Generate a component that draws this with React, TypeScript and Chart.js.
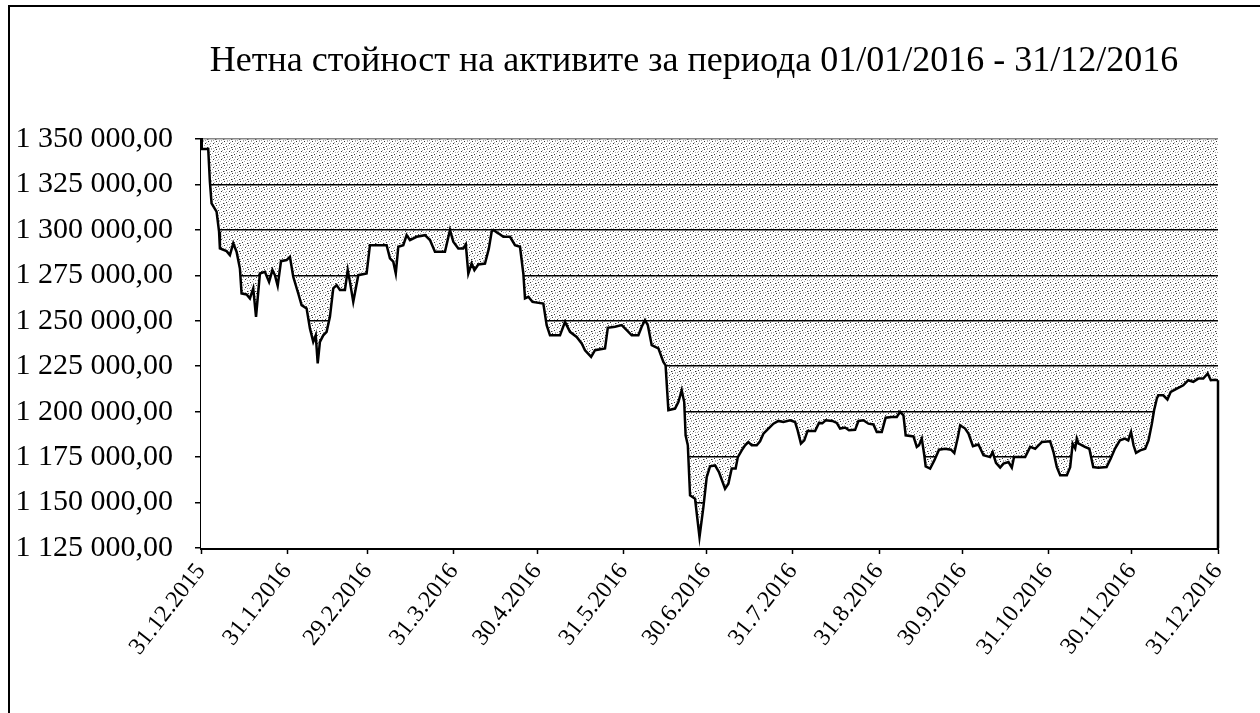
import React, { useEffect, useRef } from "react";
import { Chart, registerables } from "chart.js";

Chart.register(...registerables);

const TITLE = "Нетна стойност на активите за периода 01/01/2016 - 31/12/2016";

// days since 31.12.2015
const dayOffsets = [
  0, 2.6, 3.2, 3.8, 5.6, 6.5, 6.8, 9.2, 10.4, 11.6, 12.8, 14.0, 14.6, 16.4, 17.6, 18.8, 19.8, 21.2, 23.0, 24.5,
  25.7, 26.6, 27.6, 28.8, 30.8, 32.0, 33.2, 35.0, 36.2, 38.0, 39.2, 40.4, 41.3, 42.0, 42.8, 44.0, 45.2, 46.4, 47.6, 48.8,
  50.0, 51.8, 52.8, 53.6, 54.8, 56.6, 59.6, 60.8, 66.8, 68.0, 69.2, 70.1, 71.0, 72.8, 74.0, 75.2, 77.6, 80.6, 82.4, 84.2,
  87.8, 89.6, 90.8, 92.6, 94.4, 95.3, 96.2, 97.4, 98.4, 99.8, 102.2, 103.6, 104.6, 105.2, 107.0, 108.8, 111.2, 113.0, 114.8, 116.0,
  116.6, 117.8, 119.3, 123.2, 124.4, 125.6, 129.2, 131.0, 132.8, 135.2, 137.0, 138.2, 140.4, 141.8, 145.4, 146.4, 149.0, 151.4, 153.2, 155.0,
  157.4, 158.6, 159.8, 160.8, 162.2, 164.6, 166.4, 167.2, 168.2, 170.6, 171.8, 173.0, 173.9, 174.4, 175.2, 176.0, 177.8, 179.4, 180.8, 182.0,
  183.2, 185.0, 186.4, 188.6, 189.8, 191.0, 192.4, 193.2, 194.6, 195.8, 197.0, 198.2, 200.0, 201.2, 202.4, 204.2, 206.0, 207.8, 209.6, 212.0,
  213.8, 214.7, 215.9, 217.1, 218.3, 221.0, 222.4, 223.6, 224.8, 227.2, 228.8, 230.0, 231.8, 233.2, 235.4, 236.6, 238.4, 240.2, 242.0, 243.2,
  245.0, 246.4, 248.6, 250.4, 251.6, 252.8, 253.6, 256.4, 257.6, 258.4, 259.4, 260.3, 260.8, 262.4, 263.9, 265.6, 267.8, 269.9, 271.1, 272.4,
  273.2, 275.0, 276.2, 277.8, 279.8, 281.6, 284.0, 284.9, 286.1, 287.6, 288.8, 290.6, 291.8, 292.6, 296.6, 298.4, 300.2, 301.4, 302.6, 305.6,
  306.8, 308.0, 309.2, 311.6, 312.8, 313.7, 314.6, 315.2, 315.8, 316.6, 318.1, 319.7, 321.1, 322.9, 325.9, 327.4, 328.9, 330.7, 332.5, 333.7,
  334.7, 335.6, 336.5, 338.0, 339.8, 341.0, 342.2, 343.0, 344.0, 344.5, 346.3, 347.8, 349.0, 351.2, 353.5, 355.3, 357.1, 358.9, 360.7, 362.3,
  363.4, 365.0, 366.0,
];

const navValues = [
  1344500, 1344500, 1326500, 1314600, 1310000, 1299000, 1289800, 1288300, 1286100, 1292600, 1288000, 1278800, 1265000, 1264500, 1262300, 1267800, 1252200, 1276000, 1276900, 1271400,
  1277900, 1275100, 1269200, 1282800, 1283400, 1285200, 1274200, 1265000, 1258600, 1256800, 1245800, 1238400, 1242000, 1226500, 1238400, 1242000, 1243900, 1252200, 1267800, 1269600,
  1266900, 1266900, 1277900, 1271400, 1260400, 1275100, 1276000, 1291600, 1291600, 1284300, 1282500, 1276000, 1290700, 1291600, 1297100, 1294400, 1296200, 1297100, 1294400, 1288000,
  1288000, 1299900, 1293500, 1289800, 1289800, 1292000, 1276000, 1281500, 1277900, 1281000, 1281500, 1289800, 1299000, 1299900, 1298100, 1296200, 1296200, 1291600, 1290700, 1276000,
  1262300, 1263200, 1260400, 1259500, 1247600, 1242000, 1242000, 1249400, 1243900, 1241100, 1237500, 1233800, 1230100, 1233800, 1234800, 1246100, 1246700, 1247600, 1244800, 1242000,
  1242000, 1246700, 1250300, 1247600, 1236600, 1234800, 1227400, 1225500, 1200800, 1201700, 1205300, 1211800, 1205300, 1187000, 1181500, 1154000, 1152100, 1131000, 1147500, 1164000,
  1169900, 1170400, 1166800, 1157600, 1160400, 1168700, 1168700, 1175000, 1178700, 1181500, 1183300, 1181500, 1181500, 1183700, 1187900, 1190700, 1193400, 1194900, 1194300, 1195300,
  1194300, 1189800, 1182400, 1184200, 1189400, 1189400, 1193800, 1193600, 1195300, 1194900, 1193800, 1190700, 1191300, 1189800, 1190000, 1194900, 1195300, 1193400, 1193000, 1188800,
  1188800, 1196700, 1197100, 1197100, 1199900, 1198000, 1187000, 1186400, 1180600, 1181500, 1185200, 1176000, 1169900, 1168700, 1173200, 1179100, 1179600, 1179100, 1177300, 1186000,
  1192500, 1190700, 1187900, 1181000, 1181900, 1176000, 1175000, 1177800, 1171800, 1169200, 1171400, 1172300, 1169200, 1175000, 1175000, 1180600, 1179600, 1181500, 1183300, 1183700,
  1177800, 1169500, 1165000, 1165000, 1169500, 1182400, 1179800, 1185200, 1182400, 1181900, 1180600, 1179600, 1169500, 1169200, 1169500, 1174200, 1179600, 1184200, 1185200, 1184200,
  1188800, 1181500, 1177300, 1178700, 1179600, 1184200, 1193400, 1200800, 1207200, 1209000, 1209000, 1206700, 1210900, 1212700, 1214500, 1217300, 1216400, 1218200, 1218200, 1221000,
  1217300, 1217600, 1217300,
];

const tickDays = [0, 31, 60, 91, 121, 152, 182, 213, 244, 274, 305, 335, 366];
const tickLabels = [
  "31.12.2015", "31.1.2016", "29.2.2016", "31.3.2016", "30.4.2016", "31.5.2016", "30.6.2016",
  "31.7.2016", "31.8.2016", "30.9.2016", "31.10.2016", "30.11.2016", "31.12.2016",
];

const Y_MIN = 1125000;
const Y_MAX = 1350000;
const Y_STEP = 25000;

const FONT = "'Liberation Serif', 'Times New Roman', serif";

const fmt = (v: number) => {
  const [i, d] = v.toFixed(2).split(".");
  return i.replace(/\B(?=(\d{3})+(?!\d))/g, " ") + "," + d;
};

const stipplePlugin = {
  id: "stipple",
  beforeDraw(chart: any) {
    const { ctx, chartArea: a } = chart;
    ctx.save();
    const tile = document.createElement("canvas");
    tile.width = 8;
    tile.height = 8;
    const t = tile.getContext("2d")!;
    t.fillStyle = "#fff";
    t.fillRect(0, 0, 8, 8);
    t.fillStyle = "#333";
    [[0, 0], [5, 2], [2, 5], [7, 6]].forEach(([x, y]) => t.fillRect(x, y, 1, 1));
    t.fillStyle = "#aaa";
    [[3, 0], [6, 1], [1, 3], [4, 4], [7, 3], [0, 6], [5, 7], [3, 7], [2, 2]].forEach(([x, y]) => t.fillRect(x, y, 1, 1));
    const pat = ctx.createPattern(tile, "repeat");
    if (pat) {
      ctx.fillStyle = pat;
      ctx.fillRect(a.left, a.top, a.right - a.left, a.bottom - a.top);
    }
    ctx.restore();
  },
  afterDatasetsDraw(chart: any) {
    const meta = chart.getDatasetMeta(0);
    const pts = meta.data;
    if (!pts.length) return;
    const last = pts[pts.length - 1];
    const { ctx, chartArea: a } = chart;
    ctx.save();
    ctx.strokeStyle = "#000";
    ctx.lineWidth = 2.5;
    ctx.beginPath();
    ctx.moveTo(last.x, last.y);
    ctx.lineTo(last.x, a.bottom);
    ctx.stroke();
    ctx.restore();
  },
  afterDraw(chart: any) {
    const { ctx } = chart;
    ctx.save();
    ctx.fillStyle = "#000";
    ctx.font = `36px ${FONT}`;
    ctx.textAlign = "center";
    ctx.textBaseline = "middle";
    ctx.fillText(TITLE, 686, 57);
    ctx.restore();
  },
};

export default function App() {
  const ref = useRef<HTMLCanvasElement | null>(null);

  useEffect(() => {
    if (!ref.current) return;
    const chart = new Chart(ref.current, {
      type: "line",
      data: {
        datasets: [
          {
            data: dayOffsets.map((d, i) => ({ x: d, y: navValues[i] })),
            borderColor: "#000",
            borderWidth: 2.5,
            backgroundColor: "#fff",
            fill: "start",
            pointRadius: 0,
            tension: 0,
          },
        ],
      },
      options: {
        animation: false,
        responsive: false,
        events: [],
        layout: { padding: { left: 0, right: 42, top: 134, bottom: 0 } },
        plugins: {
          legend: { display: false },
          title: { display: false },
          tooltip: { enabled: false },
        },
        scales: {
          x: {
            type: "linear",
            min: 0,
            max: 366,
            afterBuildTicks: (scale: any) => {
              scale.ticks = tickDays.map((v) => ({ value: v }));
            },
            afterFit: (scale: any) => {
              scale.height = 165;
            },
            grid: {
              drawOnChartArea: false,
              drawTicks: true,
              tickLength: 6,
              tickColor: "#000",
              tickWidth: 1.5,
            },
            border: { color: "#000", width: 3 },
            ticks: {
              autoSkip: false,
              minRotation: 52,
              maxRotation: 52,
              padding: 4,
              color: "#000",
              font: { family: FONT, size: 24 },
              callback: (_v: any, i: number) => tickLabels[i],
            },
          },
          y: {
            min: Y_MIN,
            max: Y_MAX,
            afterFit: (scale: any) => {
              scale.width = 193;
            },
            grid: {
              color: (c: any) => (c.tick && c.tick.value === Y_MAX ? "#888" : "#000"),
              lineWidth: 1.5,
              drawTicks: true,
              tickLength: 6,
              tickColor: "#000",
            },
            border: { color: "#000", width: 3 },
            ticks: {
              stepSize: Y_STEP,
              padding: 22,
              color: "#000",
              font: { family: FONT, size: 30 },
              callback: (v: any) => fmt(Number(v)),
            },
          },
        },
      },
      plugins: [stipplePlugin],
    } as any);
    return () => chart.destroy();
  }, []);

  return (
    <div style={{ position: "relative", top: -3, width: 1252, height: 708 }}>
      <canvas
        ref={ref}
        width={1252}
        height={708}
        style={{ display: "block", position: "absolute", left: 0, top: 0 }}
      />
      <div
        style={{
          position: "fixed",
          left: 8,
          top: 5,
          width: 1270,
          height: 730,
          borderTop: "2px solid #000",
          borderLeft: "2px solid #000",
          pointerEvents: "none",
          zIndex: 2,
        }}
      />
    </div>
  );
}
